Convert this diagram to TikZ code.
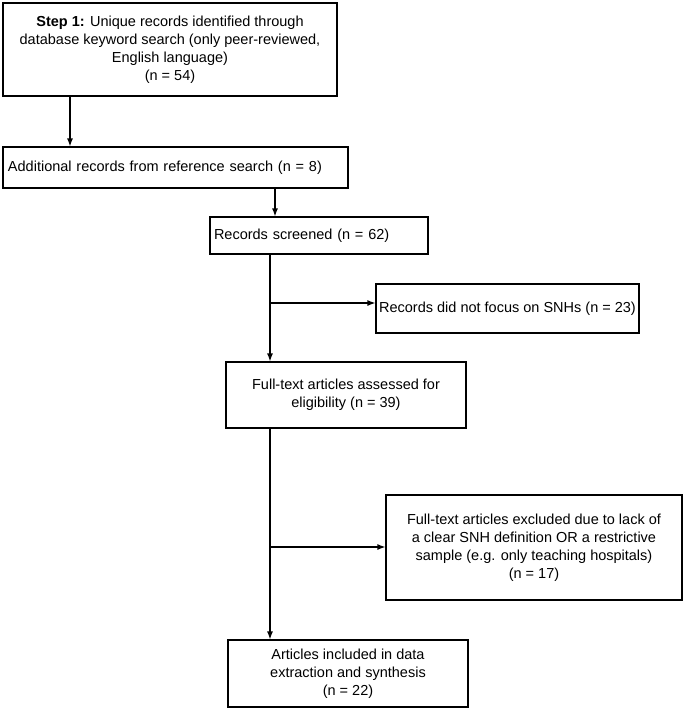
\documentclass[tikz,border=0pt]{standalone}
\usepackage{fontspec}
\setmainfont{Liberation Sans}
\usetikzlibrary{arrows.meta}
\begin{document}
\begin{tikzpicture}[x=1pt,y=-1pt,
  box/.style={draw,line width=1.2pt,align=center,font=\fontsize{14.5}{18}\selectfont,inner sep=0pt},
  arr/.style={line width=1.2pt,-{Latex[length=8pt,width=6pt]}}]
\useasboundingbox (0,0) rectangle (685,710);
\node[box,minimum width=334,minimum height=93] (b1) at (170,49.5) {\textbf{Step 1:} Unique records identified through\\database keyword search (only peer-reviewed,\\English language)\\(n = 54)};
\node[box,minimum width=345,minimum height=41,text width=335,align=left] (b2) at (175.5,167.5) {Additional records from reference search (n = 8)};
\node[box,minimum width=218,minimum height=37,text width=210,align=left] (b3) at (319,235.5) {Records screened (n = 62)};
\node[box,minimum width=263,minimum height=49] (b4) at (507.5,308.5) {Records did not focus on SNHs (n = 23)};
\node[box,minimum width=240,minimum height=66] (b5) at (346,395) {Full-text articles assessed for\\eligibility (n = 39)};
\node[box,minimum width=296,minimum height=105] (b6) at (534,547.5) {Full-text articles excluded due to lack of\\a clear SNH definition OR a restrictive\\sample (e.g. only teaching hospitals)\\(n = 17)};
\node[box,minimum width=240,minimum height=67] (b7) at (348,673.5) {Articles included in data\\extraction and synthesis\\(n = 22)};
\coordinate (j1) at (270,303);
\coordinate (j2) at (270,547);
\draw[arr] (b1.south -| 70,0) -- (b2.north -| 70,0);
\draw[arr] (b2.south -| 275,0) -- (b3.north -| 275,0);
\draw[arr] (b3.south -| 270,0) -- (b5.north -| 270,0);
\draw[arr] (j1) -- (j1 -| b4.west);
\draw[arr] (b5.south -| 270,0) -- (b7.north -| 270,0);
\draw[arr] (j2) -- (j2 -| b6.west);
\end{tikzpicture}
\end{document}
